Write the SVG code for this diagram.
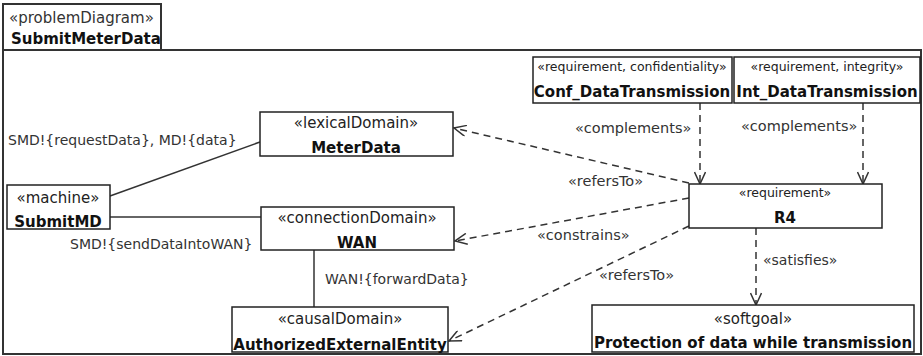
<svg xmlns="http://www.w3.org/2000/svg" width="923" height="356" viewBox="0 0 923 356">
  <defs>
    <style>
      .box { fill: #ffffff; stroke: #222222; stroke-width: 1.5; }
      .frame { fill: #ffffff; stroke: #333333; stroke-width: 2; }
      .st { font-family: "DejaVu Sans", sans-serif; font-size: 15px; fill: #222222; text-anchor: middle; }
      .st-s { font-family: "DejaVu Sans", sans-serif; font-size: 12.5px; fill: #222222; text-anchor: middle; }
      .nm { font-family: "DejaVu Sans", sans-serif; font-size: 15px; font-weight: bold; fill: #111111; text-anchor: middle; }
      .lbl { font-family: "DejaVu Sans", sans-serif; font-size: 14px; fill: #333333; }
      .assoc { fill: none; stroke: #333333; stroke-width: 1.5; }
      .dep { fill: none; stroke: #333333; stroke-width: 1.5; stroke-dasharray: 7 5; }
    </style>
    <marker id="open" viewBox="0 0 14 12" refX="13" refY="6" markerWidth="14" markerHeight="12" markerUnits="userSpaceOnUse" orient="auto">
      <path d="M1,0.5 L13,6 L1,11.5" fill="none" stroke="#333333" stroke-width="1.5"/>
    </marker>
  </defs>

  <!-- diagram frame with name tab -->
  <g id="frame">
    <rect class="frame" x="3" y="50" width="918" height="304"/>
    <rect class="frame" x="3" y="4" width="158" height="46"/>
    <text class="lbl" x="9" y="23" style="font-size:15px">«problemDiagram»</text>
    <text class="nm" x="11" y="44" style="text-anchor:start">SubmitMeterData</text>
  </g>

  <!-- connectors -->
  <g id="connectors">
    <line class="assoc" x1="110" y1="196" x2="260" y2="142"/>
    <line class="assoc" x1="110" y1="217" x2="261" y2="217"/>
    <line class="assoc" x1="314" y1="250" x2="314" y2="307"/>
    <line class="dep" x1="689" y1="183" x2="454" y2="128" marker-end="url(#open)"/>
    <line class="dep" x1="689" y1="198" x2="455" y2="241" marker-end="url(#open)"/>
    <line class="dep" x1="689" y1="226" x2="449" y2="341" marker-end="url(#open)"/>
    <line class="dep" x1="700" y1="103" x2="700" y2="184" marker-end="url(#open)"/>
    <line class="dep" x1="863" y1="103" x2="863" y2="184" marker-end="url(#open)"/>
    <line class="dep" x1="756" y1="228" x2="756" y2="305" marker-end="url(#open)"/>

    <text class="lbl" x="8" y="145">SMD!{requestData}, MD!{data}</text>
    <text class="lbl" x="70" y="249">SMD!{sendDataIntoWAN}</text>
    <text class="lbl" x="325" y="284">WAN!{forwardData}</text>
    <text class="lbl" x="575" y="133" style="font-size:14.5px">«complements»</text>
    <text class="lbl" x="741" y="131" style="font-size:14.5px">«complements»</text>
    <text class="lbl" x="568" y="186" style="font-size:14.5px">«refersTo»</text>
    <text class="lbl" x="537" y="240" style="font-size:14.5px">«constrains»</text>
    <text class="lbl" x="599" y="280" style="font-size:14.5px">«refersTo»</text>
    <text class="lbl" x="763" y="265">«satisfies»</text>
  </g>

  <g id="submitmd">
    <rect class="box" x="7" y="185" width="103" height="44"/>
    <text class="st" x="58" y="203">«machine»</text>
    <text class="nm" x="58" y="227">SubmitMD</text>
  </g>

  <g id="meterdata">
    <rect class="box" x="260" y="112" width="193" height="44"/>
    <text class="st" x="356" y="128">«lexicalDomain»</text>
    <text class="nm" x="356" y="153">MeterData</text>
  </g>

  <g id="wan">
    <rect class="box" x="261" y="207" width="193" height="43"/>
    <text class="st" x="357" y="223">«connectionDomain»</text>
    <text class="nm" x="357" y="248">WAN</text>
  </g>

  <g id="authorizedexternalentity">
    <rect class="box" x="232" y="307" width="216" height="45"/>
    <text class="st" x="340" y="324">«causalDomain»</text>
    <text class="nm" x="340" y="350">AuthorizedExternalEntity</text>
  </g>

  <g id="conf-datatransmission">
    <rect class="box" x="533" y="57" width="199" height="46"/>
    <text class="st-s" x="632" y="71">«requirement, confidentiality»</text>
    <text class="nm" x="632" y="97">Conf_DataTransmission</text>
  </g>

  <g id="int-datatransmission">
    <rect class="box" x="734" y="57" width="186" height="46"/>
    <text class="st-s" x="827" y="71">«requirement, integrity»</text>
    <text class="nm" x="827" y="97">Int_DataTransmission</text>
  </g>

  <g id="r4">
    <rect class="box" x="689" y="184" width="193" height="44"/>
    <text class="st-s" x="785" y="197">«requirement»</text>
    <text class="nm" x="785" y="223">R4</text>
  </g>

  <g id="softgoal">
    <rect class="box" x="592" y="305" width="322" height="47"/>
    <text class="st" x="753" y="324">«softgoal»</text>
    <text class="nm" x="753" y="348">Protection of data while transmission</text>
  </g>
</svg>
